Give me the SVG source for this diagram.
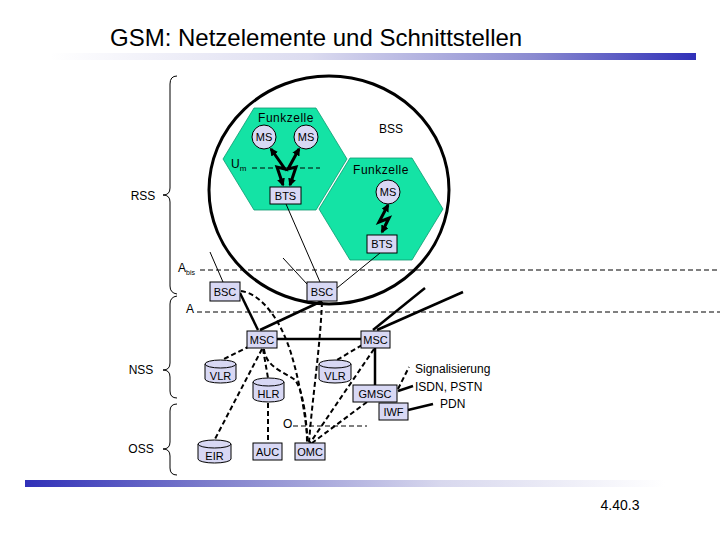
<svg xmlns="http://www.w3.org/2000/svg" width="720" height="540" viewBox="0 0 720 540">
<style>
text{font-family:"Liberation Sans",Arial,sans-serif;fill:#000}
.lbl{font-size:11px;text-anchor:middle}
.box{fill:#d8d8f4;stroke:#000;stroke-width:1}
.hex{fill:#14e3a5;stroke:#0b9a70;stroke-width:0.8}
.thin{fill:none;stroke:#000;stroke-width:1}
.thick{fill:none;stroke:#000;stroke-width:2.5}
.dash{fill:none;stroke:#000;stroke-width:2;stroke-dasharray:5 3}
.ifc{fill:none;stroke:#000;stroke-width:1;stroke-dasharray:5 3}
.bolt{fill:none;stroke:#000;stroke-width:3;stroke-linejoin:miter}
.brace{fill:none;stroke:#000;stroke-width:1}
</style>
<defs>
<linearGradient id="gTop" x1="0" y1="0" x2="1" y2="0">
<stop offset="0" stop-color="#ffffff"/>
<stop offset="0.4" stop-color="#dcdcf0"/>
<stop offset="0.75" stop-color="#8a8ad0"/>
<stop offset="1" stop-color="#3030b8"/>
</linearGradient>
<linearGradient id="gBot" x1="0" y1="0" x2="1" y2="0">
<stop offset="0" stop-color="#3030b8"/>
<stop offset="0.3" stop-color="#8080cc"/>
<stop offset="0.65" stop-color="#d8d8ee"/>
<stop offset="1" stop-color="#ffffff"/>
</linearGradient>
<marker id="ah" viewBox="0 0 10 10" refX="8" refY="5" markerWidth="8" markerHeight="8" markerUnits="userSpaceOnUse" orient="auto-start-reverse">
<path d="M0,0 L10,5 L0,10 z" fill="#000"/>
</marker>
</defs>
<rect width="720" height="540" fill="#fff"/>
<text x="110" y="46" style="font-size:24px">GSM: Netzelemente und Schnittstellen</text>
<rect x="50" y="53" width="646" height="7" fill="url(#gTop)"/>
<rect x="25" y="480" width="640" height="7" fill="url(#gBot)"/>
<text x="620" y="510" style="font-size:14px;text-anchor:middle">4.40.3</text>

<g id="braces">
<path class="brace" d="M177,76 Q170,76 170,84 L170,188 Q170,195 163,195 Q170,195 170,202 L170,286 Q170,293 177,294"/>
<path class="brace" d="M177,296 Q170,297 170,304 L170,363 Q170,370 163,370 Q170,370 170,377 L170,391 Q170,398 177,398"/>
<path class="brace" d="M177,404 Q170,404 170,411 L170,442 Q170,449 163,449 Q170,449 170,456 L170,468 Q170,475 177,475"/>
<text x="143" y="200" style="font-size:12px;text-anchor:middle">RSS</text>
<text x="141" y="374" style="font-size:12px;text-anchor:middle">NSS</text>
<text x="141" y="453" style="font-size:12px;text-anchor:middle">OSS</text>
</g>

<g id="interfaces">
<line class="ifc" x1="200" y1="270" x2="720" y2="270"/>
<text x="178" y="272" style="font-size:12px">A<tspan style="font-size:7px" dy="3">bis</tspan></text>
<line class="ifc" x1="197" y1="312" x2="720" y2="312"/>
<text x="186" y="313" style="font-size:12px">A</text>
<line class="ifc" x1="293" y1="426" x2="367" y2="426"/>
<text x="283" y="428" style="font-size:12px">O</text>
</g>

<g id="cell1">
<polygon class="hex" points="254,108 316,108 347,159 316,210 254,210 223,159"/>
<text x="286" y="122" class="lbl" style="font-size:12px;letter-spacing:0.5px">Funkzelle</text>
</g>
<g id="cell2">
<polygon class="hex" points="350,158 412,158 443,209 412,260 350,260 319,209"/>
<text x="381" y="174" class="lbl" style="font-size:12px;letter-spacing:0.5px">Funkzelle</text>
</g>
<g id="bss">
<ellipse cx="329" cy="190" rx="120" ry="114" fill="none" stroke="#000" stroke-width="3"/>
<text x="391" y="133" class="lbl" style="font-size:12px">BSS</text>
</g>
<g id="um">
<line class="ifc" x1="252" y1="168" x2="320" y2="168"/>
<text x="231" y="168" style="font-size:12px">U<tspan style="font-size:8px" dy="3">m</tspan></text>
</g>

<g id="connectors">
<path class="thin" d="M286,204 L320,282"/>
<path class="thin" d="M380,253 L337,288"/>
<path class="thin" d="M210,252 L223,282"/>
<path class="thin" d="M283,258 L307,284"/>
<path class="bolt" marker-start="url(#ah)" marker-end="url(#ah)" d="M271,149 L285,169 L277,167 L283,185"/>
<path class="bolt" marker-start="url(#ah)" marker-end="url(#ah)" d="M299,149 L288,169 L296,167 L290,185"/>
<path class="bolt" marker-start="url(#ah)" marker-end="url(#ah)" d="M388,205 L379,222 L389,218 L382,232"/>
<path class="thick" d="M240,293 L258,330"/>
<path class="thick" d="M260,330 L322,301"/>
<path class="thick" d="M277,339 L361,339"/>
<path class="thick" d="M373,330 L425,288"/>
<path class="thick" d="M377,330 L463,292"/>
<path class="thick" d="M375,348 L375,385"/>
<path class="thick" d="M398,391 L413,386"/>
<path class="thick" d="M408,410 L433,404"/>
<path class="dash" d="M241,291 C262,294 280,320 290,350 C298,375 305,410 308,443"/>
<path class="dash" d="M322,302 C320,350 312,400 309,443"/>
<path class="dash" d="M264,349 C266,368 285,372 295,380 C303,390 307,420 307,443"/>
<path class="dash" d="M374,349 L310,443"/>
<path class="dash" d="M367,402 L312,443"/>
<path class="dash" d="M250,346 L222,360"/>
<path class="dash" d="M262,349 L215,439"/>
<path class="dash" d="M263,349 L268,378"/>
<path class="dash" d="M268,403 L268,443"/>
<path class="dash" d="M362,345 L337,360"/>
<path class="dash" d="M398,389 L409,367"/>
</g>

<g id="ms1"><circle class="box" cx="264" cy="137" r="12"/><text x="264" y="141" class="lbl">MS</text></g>
<g id="ms2"><circle class="box" cx="306" cy="137" r="12"/><text x="306" y="141" class="lbl">MS</text></g>
<g id="ms3"><circle class="box" cx="388" cy="192" r="12"/><text x="388" y="196" class="lbl">MS</text></g>
<g id="bts1"><rect class="box" x="270" y="187" width="31" height="17"/><text x="285.5" y="199.5" class="lbl">BTS</text></g>
<g id="bts2"><rect class="box" x="367" y="235" width="30" height="18"/><text x="382" y="248" class="lbl">BTS</text></g>
<g id="bsc1"><rect class="box" x="210" y="282" width="30" height="19"/><text x="225" y="295.5" class="lbl">BSC</text></g>
<g id="bsc2"><rect class="box" x="307" y="282" width="30" height="19"/><text x="322" y="295.5" class="lbl">BSC</text></g>
<g id="msc1"><rect class="box" x="247" y="331" width="30" height="17"/><text x="262" y="343.5" class="lbl">MSC</text></g>
<g id="msc2"><rect class="box" x="361" y="331" width="29" height="17"/><text x="375.5" y="343.5" class="lbl">MSC</text></g>
<g id="vlr1"><path class="box" d="M205,364 L205,379 A15.5,4 0 0 0 236,379 L236,364"/><ellipse class="box" cx="220.5" cy="364" rx="15.5" ry="4"/><text x="220.5" y="380" class="lbl">VLR</text></g>
<g id="vlr2"><path class="box" d="M319,364 L319,379 A16,4 0 0 0 351,379 L351,364"/><ellipse class="box" cx="335" cy="364" rx="16" ry="4"/><text x="335" y="380" class="lbl">VLR</text></g>
<g id="hlr"><path class="box" d="M253,382 L253,398 A15.5,4 0 0 0 284,398 L284,382"/><ellipse class="box" cx="268.5" cy="382" rx="15.5" ry="4"/><text x="268.5" y="398" class="lbl">HLR</text></g>
<g id="eir"><path class="box" d="M198,444 L198,459 A16.5,4 0 0 0 231,459 L231,444"/><ellipse class="box" cx="214.5" cy="444" rx="16.5" ry="4"/><text x="214.5" y="460" class="lbl">EIR</text></g>
<g id="auc"><rect class="box" x="253" y="443" width="29" height="17"/><text x="267.5" y="455.5" class="lbl">AUC</text></g>
<g id="omc"><rect class="box" x="295" y="443" width="30" height="17"/><text x="310" y="455.5" class="lbl">OMC</text></g>
<g id="gmsc"><rect class="box" x="353" y="385" width="44" height="17"/><text x="375" y="397.5" class="lbl">GMSC</text></g>
<g id="iwf"><rect class="box" x="379" y="403" width="29" height="17"/><text x="393.5" y="415.5" class="lbl">IWF</text></g>
<g id="ext">
<text x="415" y="373" style="font-size:12px">Signalisierung</text>
<text x="415" y="391" style="font-size:12px">ISDN, PSTN</text>
<text x="440" y="408" style="font-size:12px">PDN</text>
</g>
</svg>
